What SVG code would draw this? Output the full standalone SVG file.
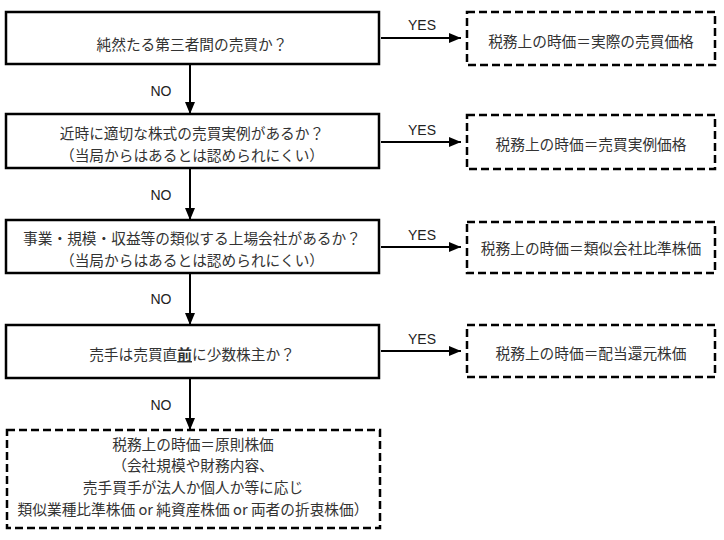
<svg xmlns="http://www.w3.org/2000/svg" width="724" height="540" viewBox="0 0 724 540">
<defs>
<marker id="ah" markerWidth="12" markerHeight="10" refX="12" refY="5" orient="auto" markerUnits="userSpaceOnUse">
<path d="M0,0 L12,5 L0,10 Z" fill="#000"/>
</marker>
<style>
.q{fill:#fff;stroke:#000;stroke-width:2.5}
.r{fill:#fff;stroke:#000;stroke-width:2.5;stroke-dasharray:8 4}
.t{font-family:"Noto Sans CJK JP","Noto Sans",sans-serif;font-size:14.7px;fill:#333;text-anchor:middle;dominant-baseline:central}
.l{font-family:"Liberation Sans","Noto Sans",sans-serif;font-size:14px;fill:#222;text-anchor:middle}
.c{stroke:#000;stroke-width:2;fill:none;marker-end:url(#ah)}
</style>
</defs>
<rect width="724" height="540" fill="#fff"/>
<g id="q1"><rect class="q" x="6" y="12" width="373" height="52"/><text class="t" x="192" y="43">純然たる第三者間の売買か？</text></g>
<g id="q2"><rect class="q" x="6" y="114" width="373" height="54"/><text class="t" x="192" y="132">近時に適切な株式の売買実例があるか？</text><text class="t" x="192" y="154">（当局からはあるとは認められにくい）</text></g>
<g id="q3"><rect class="q" x="6" y="220" width="373" height="53"/><text class="t" x="192" y="237">事業・規模・収益等の類似する上場会社があるか？</text><text class="t" x="192" y="259">（当局からはあるとは認められにくい）</text></g>
<g id="q4"><rect class="q" x="6" y="325" width="373" height="53"/><text class="t" x="192" y="353">売手は売買直<tspan font-weight="bold" text-decoration="underline">前</tspan>に少数株主か？</text></g>
<g id="r1"><rect class="r" x="467" y="12" width="248" height="53"/><text class="t" x="591" y="40">税務上の時価＝実際の売買価格</text></g>
<g id="r2"><rect class="r" x="467" y="115" width="248" height="54"/><text class="t" x="591" y="143">税務上の時価＝売買実例価格</text></g>
<g id="r3"><rect class="r" x="467" y="222" width="248" height="51"/><text class="t" x="591" y="247">税務上の時価＝類似会社比準株価</text></g>
<g id="r4"><rect class="r" x="467" y="325" width="248" height="52"/><text class="t" x="591" y="352">税務上の時価＝配当還元株価</text></g>
<g id="r5"><rect class="r" x="7" y="430" width="373" height="98"/>
<text class="t" x="193" y="443">税務上の時価＝原則株価</text>
<text class="t" x="193" y="464">（会社規模や財務内容、</text>
<text class="t" x="193" y="486">売手買手が法人か個人か等に応じ</text>
<text class="t" x="193" y="508">類似業種比準株価 or 純資産株価 or 両者の折衷株価）</text></g>
<g id="connectors">
<line class="c" x1="190" y1="65" x2="190" y2="114"/>
<line class="c" x1="190" y1="169" x2="190" y2="220"/>
<line class="c" x1="190" y1="274" x2="190" y2="325"/>
<line class="c" x1="190" y1="379" x2="190" y2="430"/>
<line class="c" x1="381" y1="38" x2="461" y2="38"/>
<line class="c" x1="381" y1="142" x2="461" y2="142"/>
<line class="c" x1="381" y1="247" x2="461" y2="247"/>
<line class="c" x1="381" y1="351" x2="461" y2="351"/>
<text class="l" x="161" y="96">NO</text>
<text class="l" x="161" y="200">NO</text>
<text class="l" x="161" y="304">NO</text>
<text class="l" x="161" y="410">NO</text>
<text class="l" x="422" y="30">YES</text>
<text class="l" x="422" y="135">YES</text>
<text class="l" x="422" y="240">YES</text>
<text class="l" x="422" y="344">YES</text>
</g>
</svg>
